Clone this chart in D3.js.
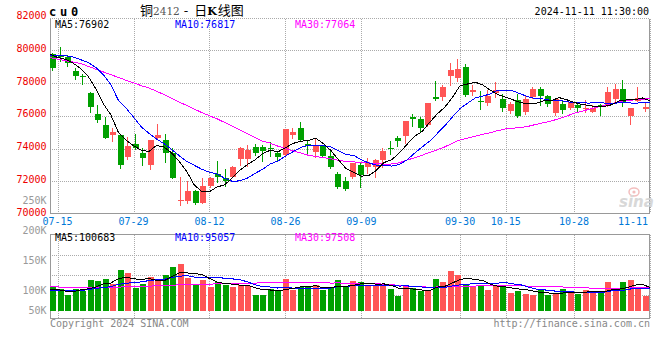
<!DOCTYPE html>
<html><head><meta charset="utf-8">
<script src="https://cdn.jsdelivr.net/npm/d3@7"></script>
<style>
html,body{margin:0;padding:0;background:#fff;}
svg{display:block;}
text{font-family:"DejaVu Sans Mono",monospace;}
</style></head><body>
<svg id="c" width="660" height="360"></svg>
<script>
const dates = ["07-12","07-15","07-16","07-17","07-18","07-19","07-22","07-23","07-24","07-25","07-26","07-29","07-30","07-31",
"08-01","08-02","08-05","08-06","08-07","08-08","08-09","08-12","08-13","08-14","08-15","08-16","08-19","08-20","08-21","08-22","08-23","08-26","08-27","08-28","08-29","08-30",
"09-02","09-03","09-04","09-05","09-06","09-09","09-10","09-11","09-12","09-13","09-18","09-19","09-20","09-23","09-24","09-25","09-26","09-27","09-30",
"10-08","10-09","10-10","10-11","10-14","10-15","10-16","10-17","10-18","10-21","10-22","10-23","10-24","10-25","10-28","10-29","10-30","10-31",
"11-01","11-04","11-05","11-06","11-07","11-08","11-11"];
const tickDates = ["07-15","07-29","08-12","08-26","09-09","09-30","10-15","10-28","11-11"];
const priceTicks = [70000,72000,74000,76000,78000,80000,82000];
const volTicks = [50000,100000,150000,200000,250000];

const open = [79770,79680,79560,78730,78450,77410,76110,75440,74840,74820,73500,74270,73740,73020,74670,74520,73710,70790,70790,71400,70690,71710,72440,72200,72260,73330,73340,74110,74110,74050,73740,73620,74820,75250,74270,73800,74180,73540,72460,72020,72280,72990,72840,72860,73300,74030,74660,74750,75940,75820,75440,77150,77150,78440,78310,78980,77450,76900,76800,77370,77010,76310,76960,76250,77160,77630,77210,76190,76720,76460,76660,76440,76250,76660,76660,77000,77620,75980,76930,76440];
const high = [79850,80220,79740,78900,78550,77420,76630,75950,75250,74820,74720,74870,74010,74520,75480,74860,74010,72280,72000,71440,72220,72290,73240,72750,72920,74110,74210,74270,74240,74400,73800,75190,75250,75640,74520,74580,74210,73930,72580,72290,73110,73180,73400,73340,74030,74460,74760,75680,76130,75940,76780,78130,77880,79240,79470,79180,77900,77510,77590,78080,77330,76810,77330,77270,77730,77760,77270,77080,76930,76930,76750,76990,76630,76690,77730,77930,78180,76470,77770,76800];
const low = [78790,79340,79040,78230,77940,76250,75640,74640,74480,72810,73330,73940,73020,72730,74580,73190,72180,70550,70680,70640,70650,71670,71970,71710,72240,72990,72930,73630,73260,73540,73320,73600,74620,74500,73740,73460,73500,72830,71590,71470,72180,71670,72500,72260,72840,73660,74150,74350,75390,75090,75400,76960,76960,77850,78130,77220,77240,76400,76660,77160,76290,76170,75940,76110,77110,76640,76610,76050,76150,76390,76310,76250,76200,76050,76600,76920,76580,75500,76880,76320];
const close = [78900,79570,79250,78450,78340,76550,75740,74660,75010,72990,74150,74010,73390,74520,74820,73710,72220,70840,71400,70670,71710,72220,72280,72000,72890,74010,73930,73710,73870,73950,73500,75190,75030,74540,74170,74210,73540,72890,71670,71500,73110,72380,73100,73300,73850,73940,74470,75680,75820,75280,76780,77020,77770,78790,78860,77270,77570,76870,77180,77570,76470,76740,75980,77000,77650,77190,76720,77000,76350,76870,76460,76490,76500,76520,77420,77620,76810,76470,77100,76550];
const volume = [105500,92840,67520,92840,84400,130820,126600,135040,113940,173020,161630,98330,113940,142210,127870,151920,184840,199180,140530,112670,132090,102120,123220,107610,102120,110990,103390,67520,67520,94110,89890,135040,88620,100440,100440,108450,88620,95790,130820,99170,126600,122380,110990,105500,105500,92000,63300,105500,95790,85240,83560,135040,122380,168800,151920,113940,105500,105500,88620,104230,104230,76800,85240,71740,66680,86510,66680,75960,94110,74690,73010,89890,81020,85240,122380,85240,122380,130820,98330,63300];

const ma5 = [79750,79560,79450,79220,78902,78432,77666,76748,76060,74990,74510,74164,73910,73812,74178,74090,73732,73222,72598,71768,71368,71368,71656,71776,72220,72680,73022,73308,73682,73894,73792,74044,74308,74442,74486,74628,74298,73870,73296,72762,72542,72310,72352,72678,73148,73314,73732,74248,74752,75038,75606,76116,76534,77128,77844,77942,78052,77872,77550,77292,77132,76966,76788,76752,76768,76912,76908,77112,76982,76826,76680,76634,76534,76568,76678,76910,76974,76968,77084,76910];
const ma10 = [79710,79690,79660,79600,79430,79260,78960,78520,77900,76946,76471,75915,75329,74936,74584,74300,73948,73566,73205,72973,72729,72550,72439,72187,71994,72024,72195,72482,72729,73057,73236,73533,73808,74062,74190,74210,74171,74089,73869,73624,73585,73304,73111,72987,72955,72928,73021,73300,73715,74093,74460,74924,75391,75940,76441,76774,77084,77203,77339,77568,77537,77509,77330,77151,77030,77022,76937,76950,76867,76797,76796,76771,76823,76775,76752,76795,76804,76751,76826,76794];
const ma30 = [79545,79460,79370,79280,79200,79020,78850,78680,78510,78340,78170,78010,77840,77700,77510,77290,77060,76840,76630,76410,76190,76000,75810,75590,75360,75140,74900,74670,74450,74325,74145,73999,73859,73728,73589,73511,73438,73379,73268,73218,73183,73129,73119,73079,73046,73054,73129,73290,73438,73591,73760,73920,74103,74330,74529,74637,74759,74864,74974,75095,75194,75246,75277,75359,75475,75575,75681,75818,75974,76153,76264,76401,76515,76622,76741,76864,76942,76968,77011,77053];
const vma5 = [92800,90700,84400,81600,88620,93684,100436,113940,118160,135884,142046,136392,132172,137826,128796,126854,144156,161204,160868,157828,153862,137318,122126,115542,113432,109212,109466,98326,90308,88706,84486,90816,95036,101620,102886,106598,97314,98748,104824,104570,108200,114952,117992,112928,114194,107274,95458,94360,92418,88366,86678,101026,104402,119004,132340,138416,132508,129132,113096,103558,101616,95876,91824,88448,80938,77394,75370,73514,77988,79590,76890,81532,82544,80770,90308,92754,99252,109212,111830,100014];
const vma10 = [88600,88600,87400,85700,85700,90700,94900,99200,102500,112252,117865,118414,123056,127993,132340,134450,140274,146688,149347,143312,140358,140737,141665,138205,135630,131537,123392,110226,102925,101069,96849,100141,96681,95964,95796,95542,94065,96892,103222,103728,107399,106133,108370,108876,109382,107737,105205,106176,102673,101280,96976,98242,99381,105711,110353,112547,116767,116767,116050,117949,120016,114192,110478,100772,92248,89505,85623,82669,83218,80264,77142,78451,78029,79379,84949,84822,90392,95878,96300,95161];
const vma30 = [102500,101500,100000,99000,98000,97500,97500,98000,98500,100500,103000,103500,104000,105000,106000,107000,108500,110500,111500,112000,113000,113500,114500,115000,115500,116500,117500,118000,118500,118878,118357,119764,120467,120721,121255,120510,119244,117935,118498,116036,114869,115670,115572,114348,113603,111605,107554,104431,102940,102026,100408,101505,101477,103517,105177,105275,105346,106612,107315,107652,108130,106189,106076,105120,103994,103263,102532,101871,100647,99831,98045,96962,95963,95287,95850,95625,97594,98438,98523,97791];

const legendPrice = ["MA5:76902","MA10:76817","MA30:77064"];
const legendVol = ["MA5:100683","MA10:95057","MA30:97508"];

const RED="#ff5555", GREEN="#00a000", GRID="#aaaaaa", BORDER="#999999";
const L=50, R=650;
const svg = d3.select("#c");

const x = d3.scaleBand().domain(dates).range([L,R]).paddingInner(0.2).paddingOuter(0.1);
const xp = d3.scalePoint().domain(dates).range([L,R]);
const yP = d3.scaleLinear().domain([70000,82000]).range([214,17.5]);
const yV = d3.scaleLinear().domain([0,100000]).range([311,287.3]);
const yVL = d3.scaleLinear().domain([100000,200000]).range([293.5,234]);

const crisp = v => Math.round(v)+0.5;

// ---- grids ----
const g = svg.append("g").attr("shape-rendering","crispEdges");
const dot = g.append("g").attr("stroke",GRID).attr("stroke-dasharray","1,1").attr("fill","none");
dot.selectAll("line.h").data(priceTicks.filter(v=>v>70000&&v<82000)).join("line")
  .attr("x1",L).attr("x2",R).attr("y1",v=>crisp(yP(v))).attr("y2",v=>crisp(yP(v)));
dot.append("line").attr("x1",L).attr("x2",R).attr("y1",18.5).attr("y2",18.5);
dot.selectAll("line.vp").data(tickDates).join("line")
  .attr("x1",d=>crisp(xp(d))).attr("x2",d=>crisp(xp(d))).attr("y1",19).attr("y2",213);
const dot2 = g.append("g").attr("stroke",GRID).attr("stroke-dasharray","1,1").attr("fill","none");
dot2.selectAll("line").data([255.5,275.5,295.5]).join("line")
  .attr("x1",L).attr("x2",R).attr("y1",d=>d).attr("y2",d=>d);
dot2.selectAll("line.v").data(tickDates).join("line")
  .attr("x1",d=>crisp(xp(d))).attr("x2",d=>crisp(xp(d))).attr("y1",235).attr("y2",318);

// borders
const b = g.append("g").attr("stroke",BORDER).attr("fill","none");
b.append("path").attr("d",`M${L+0.5},18.5V213.5H${R-0.5}V18.5`);
b.append("rect").attr("x",L+0.5).attr("y",234.5).attr("width",R-L-1).attr("height",84);

// ---- candles & volume bars ----
const cg = svg.append("g").attr("shape-rendering","crispEdges");
dates.forEach((d,i)=>{
  const up = close[i] >= open[i];
  const col = up ? RED : GREEN;
  const bx = Math.floor(x(d));
  cg.append("line").attr("x1",bx+2.5).attr("x2",bx+2.5)
    .attr("y1",Math.round(yP(high[i]))).attr("y2",Math.round(yP(low[i]))+1).attr("stroke",col);
  const t = Math.round(yP(Math.max(open[i],close[i])));
  const btm = Math.round(yP(Math.min(open[i],close[i])));
  cg.append("rect").attr("x",bx).attr("y",t).attr("width",x.bandwidth())
    .attr("height",Math.max(1,btm-t)).attr("fill",col);
  const vy = Math.round(yV(volume[i]));
  cg.append("rect").attr("x",bx).attr("y",vy).attr("width",x.bandwidth())
    .attr("height",311-vy).attr("fill",col);
});

// ---- MA lines ----
const lp = d3.line().x((d,i)=>xp(dates[i])).y(d=>yP(d));
const lv = d3.line().x((d,i)=>xp(dates[i])).y(d=>yV(d));
const lg = svg.append("g").attr("fill","none").attr("stroke-width",1).attr("shape-rendering","crispEdges");
[[ma30,"#ff00ff"],[ma10,"#0000ff"],[ma5,"#000000"]].forEach(([s,c])=>lg.append("path").attr("d",lp(s)).attr("stroke",c));
[[vma30,"#ff00ff"],[vma10,"#0000ff"],[vma5,"#000000"]].forEach(([s,c])=>lg.append("path").attr("d",lv(s)).attr("stroke",c));

// ---- labels ----
const tx = svg.append("g").attr("font-size",10);
tx.selectAll("text.p").data(priceTicks).join("text")
  .attr("x",46.5).attr("y",v=>yP(v)+1.6).attr("text-anchor","end").attr("fill","#ee0000").text(v=>v);
tx.selectAll("text.v").data(volTicks).join("text")
  .attr("x",46.5).attr("y",v=>Math.min(314,yVL(v))).attr("text-anchor","end").attr("fill","#999999")
  .text(v=>(v/1000)+"K");
tx.selectAll("text.d").data(tickDates).join("text")
  .attr("x",d=>xp(d)).attr("y",225).attr("text-anchor","middle").attr("fill","#0078d7").text(d=>d)
  .each(function(d){ const w=this.getComputedTextLength(); if(xp(d)+w/2>R-1){ d3.select(this).attr("text-anchor","end").attr("x",R-2);} });

const legCols = ["#000000","#0000ff","#ff00ff"], legX=[55,175,295];
legendPrice.forEach((t,i)=>tx.append("text").attr("x",legX[i]).attr("y",27.8).attr("fill",legCols[i]).text(t));
legendVol.forEach((t,i)=>tx.append("text").attr("x",legX[i]).attr("y",241).attr("fill",legCols[i]).text(t));

tx.append("text").attr("x",R-1).attr("y",15).attr("text-anchor","end").attr("fill","#000").text("2024-11-11 11:30:00");
tx.append("text").attr("x",50).attr("y",327).attr("fill","#888").text("Copyright 2024 SINA.COM");
tx.append("text").attr("x",R).attr("y",327).attr("text-anchor","end").attr("fill","#888").text("http://finance.sina.com.cn");

svg.append("text").attr("x",49).attr("y",15.5).attr("font-size",12).attr("font-weight","bold")
  .attr("letter-spacing",3.8).attr("fill","#000").text("cu0");

// title as one flowing text element
const title = svg.append("text").attr("x",140).attr("y",14.5).attr("font-size",13).attr("fill","#000")
  .style("font-family",'"Noto Sans CJK SC",sans-serif');
title.append("tspan").text("铜");
title.append("tspan").style("font-family",'"DejaVu Serif",serif').attr("fill","#555").attr("font-size",10.5).text("2412");
title.append("tspan").attr("dx",4).text("-");
title.append("tspan").attr("dx",6).text("日");
title.append("tspan").style("font-family",'"DejaVu Serif",serif').attr("font-weight","bold").attr("font-size",11).text("K");
title.append("tspan").attr("dx",1).text("线图");

// watermark
const wm = svg.append("g").attr("opacity",0.9);
wm.append("ellipse").attr("cx",634).attr("cy",192).attr("rx",5).attr("ry",4).attr("fill","none").attr("stroke","#f2b8b8").attr("stroke-width",1.5);
wm.append("circle").attr("cx",634).attr("cy",192).attr("r",1.6).attr("fill","#f2b8b8");
wm.append("text").attr("x",619).attr("y",207).attr("font-size",15).attr("font-style","italic").attr("font-weight","bold")
  .style("font-family","'DejaVu Sans',sans-serif").attr("fill","#d4d4d4").text("sina");
</script>
</body></html>
